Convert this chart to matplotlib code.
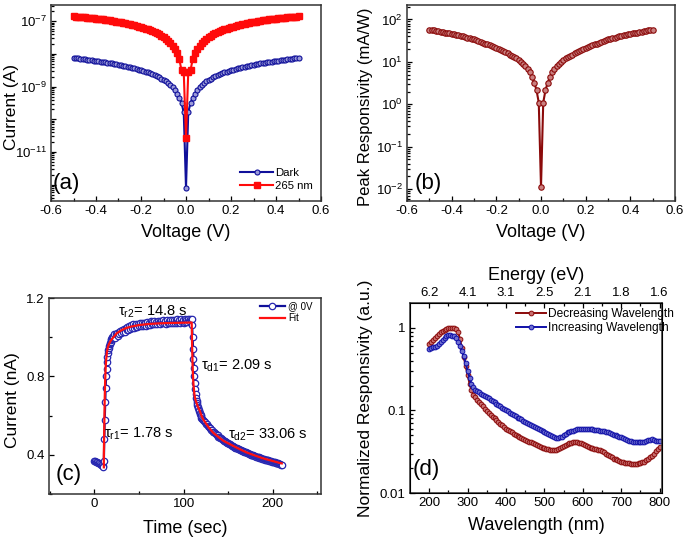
import numpy as np
import matplotlib
matplotlib.use("Agg")
import matplotlib.pyplot as plt
from matplotlib.ticker import LogLocator, MultipleLocator, NullFormatter, FixedLocator

plt.rcParams['font.family'] = ['Liberation Sans', 'DejaVu Sans']
plt.rcParams['mathtext.fontset'] = 'custom'
plt.rcParams['mathtext.rm'] = 'Liberation Sans'
plt.rcParams['mathtext.it'] = 'Liberation Sans'
plt.rcParams['mathtext.default'] = 'regular'

# ---------------------------------------------------------------- (a) I-V
v_pos = [0.00, 0.01, 0.02, 0.03, 0.04, 0.05, 0.06, 0.07, 0.08, 0.09, 0.10,
         0.11, 0.12, 0.13, 0.14, 0.15, 0.16, 0.17, 0.18, 0.19, 0.20,
         0.21, 0.22, 0.23, 0.24, 0.25, 0.26, 0.27, 0.28, 0.29, 0.30,
         0.31, 0.32, 0.33, 0.34, 0.35, 0.36, 0.37, 0.38, 0.39, 0.40,
         0.41, 0.42, 0.43, 0.44, 0.45, 0.46, 0.47, 0.48, 0.49, 0.50]
# log10 of current (A), V >= 0 (curves are symmetric)
log_dark = [-12.09, -9.79, -9.49, -9.34, -9.21, -9.10, -9.02, -8.95, -8.89, -8.84, -8.79,
            -8.75, -8.71, -8.67, -8.64, -8.61, -8.58, -8.56, -8.54, -8.52, -8.50,
            -8.48, -8.46, -8.44, -8.42, -8.41, -8.39, -8.37, -8.36, -8.34, -8.33,
            -8.32, -8.30, -8.29, -8.28, -8.27, -8.25, -8.24, -8.23, -8.22, -8.21,
            -8.20, -8.19, -8.18, -8.17, -8.16, -8.15, -8.14, -8.13, -8.12, -8.11]
log_uv = [-10.56, -8.56, -8.50, -8.15, -7.98, -7.85, -7.75, -7.66, -7.59, -7.53, -7.48,
          -7.44, -7.40, -7.36, -7.33, -7.30, -7.27, -7.24, -7.22, -7.20, -7.18,
          -7.16, -7.14, -7.12, -7.10, -7.09, -7.07, -7.06, -7.04, -7.03, -7.02,
          -7.01, -6.99, -6.98, -6.97, -6.96, -6.95, -6.94, -6.93, -6.93, -6.92,
          -6.91, -6.90, -6.90, -6.89, -6.88, -6.88, -6.87, -6.86, -6.86, -6.85]

# ---------------------------------------------------------------- (b) responsivity
log_resp = [-1.95, 0.04, 0.33, 0.51, 0.64, 0.75, 0.83, 0.90, 0.96, 1.00, 1.04,
            1.08, 1.11, 1.14, 1.17, 1.20, 1.23, 1.26, 1.28, 1.31, 1.33,
            1.35, 1.37, 1.39, 1.41, 1.43, 1.45, 1.47, 1.49, 1.51, 1.53,
            1.54, 1.56, 1.57, 1.59, 1.60, 1.61, 1.63, 1.64, 1.65, 1.66,
            1.67, 1.68, 1.69, 1.70, 1.71, 1.72, 1.73, 1.74, 1.75, 1.76]

# ---------------------------------------------------------------- (c) transient
t_meas = [0, 1, 2, 3, 4, 5, 6, 7, 8, 9, 10,
          10.5, 11, 11.5, 12, 12.5, 13, 13.5, 14, 14.5, 15, 15.5, 16, 16.5, 17, 17.5,
          18, 18.5, 19, 19.5, 20,
          21, 22, 23, 24, 25, 26, 27, 28, 29, 30, 31, 32, 33, 34, 35, 36, 37, 38, 39, 40,
          41, 42, 43, 44, 45, 46, 47, 48, 49, 50, 51, 52, 53, 54, 55, 56, 57, 58, 59, 60,
          61, 62, 63, 64, 65, 66, 67, 68, 69, 70, 71, 72, 73, 74, 75, 76, 77, 78, 79, 80,
          81, 82, 83, 84, 85, 86, 87, 88, 89, 90, 91, 92, 93, 94, 95, 96, 97, 98, 99, 100,
          101, 102, 103, 104, 105, 106, 107, 108, 109,
          109.5, 110, 110.5, 111, 111.5, 112, 112.5, 113, 113.5, 114, 114.5, 115, 115.5,
          116, 116.5, 117, 117.5, 118, 118.5, 119, 119.5, 120,
          121, 122, 123, 124, 125, 126, 127, 128, 129, 130, 131, 132, 133, 134, 135,
          136, 137, 138, 139, 140, 141, 142, 143, 144, 145, 146, 147, 148, 149, 150,
          151, 152, 153, 154, 155, 156, 157, 158, 159, 160, 161, 162, 163, 164, 165,
          166, 167, 168, 169, 170, 171, 172, 173, 174, 175, 176, 177, 178, 179, 180,
          181, 182, 183, 184, 185, 186, 187, 188, 189, 190, 191, 192, 193, 194, 195,
          196, 197, 198, 199, 200, 201, 202, 203, 204, 205, 206, 207, 208, 209, 210]
i_meas = [0.368, 0.366, 0.364, 0.362, 0.360, 0.357, 0.354, 0.350, 0.346, 0.341, 0.336,
          0.37, 0.48, 0.58, 0.67, 0.74, 0.80, 0.84, 0.875, 0.90, 0.92, 0.935, 0.945, 0.955,
          0.965, 0.97, 0.978, 0.985, 0.99, 0.995, 1.0,
          1.003, 1.014, 0.995, 1.018, 1.02, 1.008, 1.029, 1.015, 1.033, 1.021,
          1.038, 1.025, 1.043, 1.029, 1.048, 1.035, 1.053, 1.039, 1.058, 1.043,
          1.061, 1.047, 1.065, 1.049, 1.063, 1.052, 1.069, 1.053, 1.067, 1.055,
          1.071, 1.057, 1.073, 1.059, 1.075, 1.061, 1.073, 1.059, 1.077, 1.063,
          1.075, 1.062, 1.081, 1.065, 1.078, 1.067, 1.083, 1.067, 1.08, 1.069,
          1.085, 1.07, 1.081, 1.067, 1.083, 1.071, 1.086, 1.072, 1.083, 1.069,
          1.088, 1.073, 1.085, 1.071, 1.089, 1.074, 1.086, 1.072, 1.09, 1.075,
          1.087, 1.073, 1.091, 1.076, 1.088, 1.074, 1.091, 1.077, 1.089, 1.075,
          1.093, 1.078, 1.09, 1.077, 1.093, 1.081, 1.095, 1.088, 1.095,
          1.06, 1.0, 0.94, 0.89, 0.845, 0.80, 0.765, 0.735, 0.71, 0.69, 0.675, 0.665, 0.655,
          0.645, 0.637, 0.63, 0.622, 0.615, 0.608, 0.602, 0.596, 0.59,
          0.582, 0.577, 0.57, 0.566, 0.558, 0.555, 0.547, 0.544, 0.537, 0.535,
          0.528, 0.526, 0.518, 0.516, 0.51, 0.507, 0.501, 0.499, 0.493, 0.492,
          0.486, 0.484, 0.479, 0.477, 0.472, 0.471, 0.466, 0.465, 0.46, 0.459,
          0.454, 0.453, 0.449, 0.447, 0.444, 0.442, 0.439, 0.437, 0.434, 0.433,
          0.429, 0.428, 0.425, 0.423, 0.421, 0.419, 0.417, 0.415, 0.413, 0.412,
          0.409, 0.408, 0.405, 0.405, 0.401, 0.401, 0.398, 0.397, 0.394, 0.395,
          0.391, 0.391, 0.388, 0.388, 0.385, 0.385, 0.382, 0.381, 0.379, 0.379,
          0.376, 0.376, 0.373, 0.373, 0.371, 0.37, 0.368, 0.367, 0.365, 0.365,
          0.362, 0.362, 0.36, 0.359, 0.357, 0.356, 0.355, 0.353, 0.35, 0.347]
t_fit = [10.5, 10.5, 11, 11.5, 12, 12.5, 13, 14, 15, 16, 18, 20, 25, 30, 35, 40, 50, 60, 70,
         80, 90, 100, 109,
         109, 109.5, 110, 110.5, 111, 112, 113, 114, 116, 118, 120, 122, 125, 128, 133,
         140, 145, 152, 160, 170, 180, 189, 200, 208, 210]
i_fit = [0.336, 0.40, 0.55, 0.69, 0.78, 0.84, 0.88, 0.925, 0.948, 0.962, 0.98, 0.993, 1.02,
         1.035, 1.046, 1.053, 1.062, 1.067, 1.07, 1.072, 1.073, 1.074, 1.075,
         1.075, 0.95, 0.86, 0.80, 0.76, 0.71, 0.685, 0.67, 0.645, 0.625, 0.60, 0.58, 0.56,
         0.54, 0.513, 0.487, 0.47, 0.454, 0.435, 0.413, 0.396, 0.382, 0.368, 0.358, 0.356]

# ---------------------------------------------------------------- (d) spectral
wl = list(range(200, 801, 5))
r_dec = [0.63, 0.67, 0.71, 0.76, 0.80, 0.85, 0.89, 0.92, 0.95, 0.97,
         0.99, 1.00, 1.00, 1.00, 0.98, 0.88, 0.74, 0.57, 0.44, 0.34,
         0.27, 0.21, 0.175, 0.155, 0.145, 0.135, 0.128, 0.120, 0.112, 0.105,
         0.099, 0.093, 0.088, 0.084, 0.080, 0.076, 0.072, 0.069, 0.066, 0.063,
         0.060, 0.058, 0.056, 0.054, 0.052, 0.050, 0.049, 0.047, 0.046, 0.045,
         0.044, 0.043, 0.042, 0.041, 0.040, 0.039, 0.038, 0.037, 0.036, 0.0355,
         0.035, 0.0345, 0.034, 0.0335, 0.0333, 0.0333, 0.0335, 0.034, 0.035, 0.036,
         0.037, 0.038, 0.039, 0.040, 0.0405, 0.041, 0.041, 0.041, 0.0405, 0.040,
         0.039, 0.038, 0.037, 0.036, 0.0355, 0.035, 0.0345, 0.034, 0.0335, 0.033,
         0.032, 0.031, 0.030, 0.029, 0.028, 0.027, 0.026, 0.0255, 0.025, 0.0245,
         0.024, 0.0235, 0.023, 0.023, 0.0228, 0.0225, 0.0225, 0.0225, 0.0225, 0.023,
         0.023, 0.0235, 0.024, 0.025, 0.026, 0.027, 0.028, 0.030, 0.032, 0.034,
         0.036]
r_inc = [0.56, 0.57, 0.58, 0.59, 0.60, 0.63, 0.67, 0.71, 0.76, 0.80,
         0.82, 0.82, 0.80, 0.79, 0.75, 0.68, 0.61, 0.53, 0.45, 0.37,
         0.30, 0.25, 0.21, 0.19, 0.175, 0.17, 0.165, 0.16, 0.155, 0.15,
         0.145, 0.14, 0.135, 0.13, 0.125, 0.121, 0.116, 0.112, 0.108, 0.104,
         0.100, 0.097, 0.094, 0.091, 0.088, 0.085, 0.082, 0.080, 0.078, 0.075,
         0.073, 0.071, 0.069, 0.067, 0.065, 0.063, 0.061, 0.059, 0.058, 0.056,
         0.055, 0.053, 0.052, 0.050, 0.049, 0.047, 0.046, 0.046, 0.047, 0.048,
         0.050, 0.052, 0.054, 0.055, 0.056, 0.057, 0.058, 0.059, 0.060, 0.060,
         0.060, 0.060, 0.060, 0.0595, 0.059, 0.059, 0.058, 0.058, 0.0575, 0.057,
         0.0565, 0.056, 0.055, 0.054, 0.053, 0.052, 0.051, 0.050, 0.049, 0.048,
         0.047, 0.046, 0.045, 0.044, 0.043, 0.0425, 0.042, 0.042, 0.0415, 0.041,
         0.041, 0.0415, 0.042, 0.043, 0.044, 0.044, 0.0445, 0.044, 0.043, 0.043,
         0.043]
wl_ticks = [200, 300, 400, 500, 600, 700, 800]
ev_labels = ['6.2', '4.1', '3.1', '2.5', '2.1', '1.8', '1.6']

NAVY = '#10109a'
DRED = '#8b0a0a'
TICK_FS = 9.5
LABEL_FS = 13
YLABEL_FS = 12.5
PANEL_FS = 16

W, H = 685, 541
fig = plt.figure(figsize=(6.85, 5.41), dpi=100)


def add_ax(l, r, t, b):
    return fig.add_axes([l / W, 1 - b / H, (r - l) / W, (b - t) / H])


def style(ax):
    for sp in ax.spines.values():
        sp.set_linewidth(1.1)
        sp.set_color('#333333')
    ax.tick_params(which='both', direction='in', labelsize=TICK_FS, width=0.9,
                   top=False, right=False)
    ax.tick_params(which='major', length=3.8, pad=3)
    ax.tick_params(which='minor', length=2.2)


v_all = [-v for v in v_pos[::-1]] + v_pos[1:]
mirror = lambda a: a[::-1] + a[1:]
v_ticks = [-0.6, -0.4, -0.2, 0.0, 0.2, 0.4, 0.6]
v_labels = ['-0.6', '-0.4', '-0.2', '0.0', '0.2', '0.4', '0.6']

# ---------------------------------------------------------------- panel (a)
ax = add_ax(51, 321, 5, 201)
style(ax)
ax.semilogy(v_all, 10.0 ** np.array(mirror(log_dark)), '-o', color=NAVY, lw=1.5,
            ms=3.6, mfc='#9a9ad8', mec=NAVY, mew=0.8, label='Dark')
ax.semilogy(v_all, 10.0 ** np.array(mirror(log_uv)), '-s', color='#ff0a0a', lw=1.5,
            ms=4.0, mfc='#ff0a0a', mec='#ff0a0a', label='265 nm')
ax.set_xlim(-0.6, 0.6)
ax.set_ylim(10 ** -12.5, 10 ** -6.5)
ax.set_xticks(v_ticks)
ax.set_xticklabels(v_labels)
ax.xaxis.set_minor_locator(MultipleLocator(0.1))
ax.set_yticks([1e-12, 1e-11, 1e-10, 1e-9, 1e-8, 1e-7])
ax.set_yticklabels(['', '$10^{-11}$', '', '$10^{-9}$', '', '$10^{-7}$'])
ax.yaxis.set_minor_locator(LogLocator(base=10, subs=np.arange(2, 10), numticks=20))
ax.yaxis.set_minor_formatter(NullFormatter())
ax.set_xlabel('Voltage (V)', fontsize=LABEL_FS, labelpad=5)
ax.set_ylabel('Current (A)', fontsize=YLABEL_FS)
ax.yaxis.set_label_coords(-0.12, 0.48)
ax.text(0.006, 0.035, '(a)', transform=ax.transAxes, fontsize=PANEL_FS, va='bottom')
ax.legend(loc='lower left', bbox_to_anchor=(0.70, 0.05), frameon=False, fontsize=8.2,
          handlelength=2.9, borderpad=0, borderaxespad=0, labelspacing=0.3,
          handletextpad=0.2)

# ---------------------------------------------------------------- panel (b)
ax = add_ax(407, 675, 5, 201)
style(ax)
ax.semilogy(v_all, 10.0 ** np.array(mirror(log_resp)), '-o', color=DRED, lw=1.5,
            ms=3.9, mfc='#c98080', mec=DRED, mew=0.8)
ax.set_xlim(-0.6, 0.6)
ax.set_ylim(10 ** -2.28, 10 ** 2.34)
ax.set_xticks(v_ticks)
ax.set_xticklabels(v_labels)
ax.xaxis.set_minor_locator(MultipleLocator(0.1))
ax.set_yticks([1e-2, 1e-1, 1e0, 1e1, 1e2])
ax.set_yticklabels(['$10^{-2}$', '$10^{-1}$', '$10^{0}$', '$10^{1}$', '$10^{2}$'])
ax.yaxis.set_minor_locator(LogLocator(base=10, subs=np.arange(2, 10), numticks=20))
ax.yaxis.set_minor_formatter(NullFormatter())
ax.set_xlabel('Voltage (V)', fontsize=LABEL_FS, labelpad=5)
ax.set_ylabel('Peak Responsivity (mA/W)', fontsize=12)
ax.yaxis.set_label_coords(-0.128, 0.48)
ax.text(0.028, 0.035, '(b)', transform=ax.transAxes, fontsize=PANEL_FS, va='bottom')

# ---------------------------------------------------------------- panel (c)
ax = add_ax(49, 321, 298, 494)
style(ax)
ax.plot(t_meas, i_meas, '-o', color=NAVY, lw=1.6, ms=4.6, mfc='white', mec='#2626b0',
        mew=0.9, label='@ 0V')
ax.plot(t_fit, i_fit, '-', color='#ff1010', lw=1.6, label='Fit')
ax.set_xlim(-51, 254)
ax.set_ylim(0.2, 1.2)
ax.set_xticks([0, 100, 200])
ax.xaxis.set_minor_locator(FixedLocator([-50, 50, 150, 250]))
ax.set_yticks([0.4, 0.8, 1.2])
ax.set_yticklabels(['0.4', '0.8', '1.2'])
ax.yaxis.set_minor_locator(FixedLocator([0.2, 0.6, 1.0]))
ax.set_xlabel('Time (sec)', fontsize=LABEL_FS, labelpad=7)
ax.set_ylabel('Current (nA)', fontsize=YLABEL_FS)
ax.yaxis.set_label_coords(-0.108, 0.48)
ax.text(0.025, 0.045, '(c)', transform=ax.transAxes, fontsize=PANEL_FS, va='bottom')
ax.text(26, 1.128, r'$\tau_{r2}$= 14.8 s', fontsize=10.5, va='center')
ax.text(11, 0.505, r'$\tau_{r1}$= 1.78 s', fontsize=10.5, va='center')
ax.text(120, 0.854, r'$\tau_{d1}$= 2.09 s', fontsize=10.5, va='center')
ax.text(150, 0.501, r'$\tau_{d2}$= 33.06 s', fontsize=10.5, va='center')
ax.legend(loc='upper left', bbox_to_anchor=(0.775, 0.985), frameon=False, fontsize=7,
          handlelength=2.6, borderpad=0, borderaxespad=0, labelspacing=0.25,
          handletextpad=0.3)

# ---------------------------------------------------------------- panel (d)
ax = add_ax(410, 662, 303, 493)
style(ax)
ax.semilogy(wl, r_dec, '-o', color=DRED, lw=1.4, ms=3.4, mfc='#c97070', mec=DRED,
            mew=0.7, label='Decreasing Wavelength')
ax.semilogy(wl, r_inc, '-o', color='#1010a8', lw=1.4, ms=3.4, mfc='#7070d0',
            mec='#1010a8', mew=0.7, label='Increasing Wavelength')
ax.set_xlim(150, 806)
ax.set_ylim(0.01, 10 ** 0.3)
ax.set_xticks(wl_ticks)
ax.xaxis.set_minor_locator(FixedLocator([250, 350, 450, 550, 650, 750]))
ax.set_yticks([0.01, 0.1, 1])
ax.set_yticklabels(['0.01', '0.1', '1'])
ax.yaxis.set_minor_locator(LogLocator(base=10, subs=np.arange(2, 10), numticks=20))
ax.yaxis.set_minor_formatter(NullFormatter())
ax.set_xlabel('Wavelength (nm)', fontsize=LABEL_FS, labelpad=6)
ax.set_ylabel('Normalized Responsivity (a.u.)', fontsize=YLABEL_FS)
ax.yaxis.set_label_coords(-0.146, 0.5)
ax.text(0.01, 0.07, '(d)', transform=ax.transAxes, fontsize=PANEL_FS, va='bottom')
ax.legend(loc='upper left', bbox_to_anchor=(0.42, 0.975), frameon=False, fontsize=8.6,
          handlelength=2.5, borderpad=0, borderaxespad=0, labelspacing=0.2,
          handletextpad=0.2)
top = ax.twiny()
top.set_xlim(ax.get_xlim())
top.set_xticks(wl_ticks)
top.set_xticklabels(ev_labels)
top.xaxis.set_minor_locator(FixedLocator([250, 350, 450, 550, 650, 750]))
top.tick_params(which='both', direction='in', labelsize=TICK_FS, width=0.9)
top.tick_params(which='major', length=3.8, pad=3)
top.tick_params(which='minor', length=2.2)
top.set_xlabel('Energy (eV)', fontsize=LABEL_FS, labelpad=5)

fig.savefig('out.png', dpi=100)
